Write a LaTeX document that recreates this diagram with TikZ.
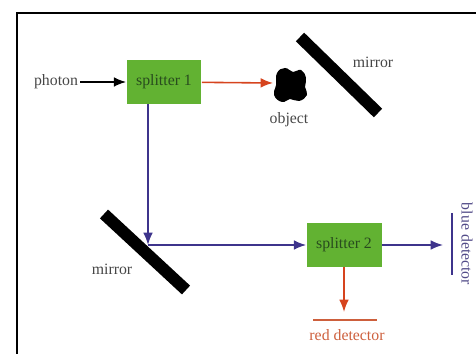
\documentclass[tikz,border=0pt]{standalone}
\usepackage{fontspec}
\setmainfont{Liberation Serif}
\usetikzlibrary{arrows.meta}
\definecolor{splitgreen}{RGB}{98,178,50}
\definecolor{splittext}{RGB}{40,75,30}
\definecolor{beamblue}{RGB}{62,52,140}
\definecolor{beamred}{RGB}{214,68,30}
\definecolor{detred}{RGB}{205,95,60}
\definecolor{labelgray}{RGB}{70,70,70}
\begin{document}
\begin{tikzpicture}[x=0.02cm,y=-0.02cm,font=\fontsize{9}{10}\selectfont,text=labelgray,
		splitter/.style={fill=splitgreen,text=splittext,minimum width=1.5cm,minimum height=0.88cm,inner sep=0pt},
		ray/.style={line width=0.9pt,-{Latex[length=7pt,width=5.5pt]}},
		mirrorbar/.style={line width=6.8pt}]
		\useasboundingbox (0,0) rectangle (476,354);
		%frame
		\draw[line width=1.5pt] (17,354)--(17,13)--(476,13);
		%splitters
		\node[splitter] (s1) at (164,82) {splitter 1};
		\node[splitter] (s2) at (344,245) {splitter 2};
		\node[inner sep=1pt] (photon) at (56,82) {photon};
		%mirrors
		\draw[mirrorbar] (300,37)--(378,113);
		\draw[mirrorbar] (104,214)--(186,290);
		\coordinate (m2) at (148,245);
		%object
		\fill plot[smooth cycle,tension=0.8] coordinates {(277,73) (285,68) (293,72) (301,70) (306,78) (305,87) (307,95) (299,101) (290,99) (282,102) (274,95) (276,85)};
		\coordinate (obj) at (273,83);
		%detectors
		\coordinate (bluedet) at (443,245);
		\coordinate (reddet) at (344,312);
		\draw[beamblue,line width=1pt] (452,213)--(452,275);
		\draw[detred,line width=1pt] (313,320)--(377,320);
		%beams
		\draw[ray] (photon)--(s1);
		\draw[ray,beamred] (s1)--(obj);
		\draw[ray,beamblue] (s1.south -| m2)--(m2);
		\draw[ray,beamblue] (m2)--(s2);
		\draw[ray,beamblue] (s2)--(bluedet);
		\draw[ray,beamred] (s2)--(reddet);
		%labels
		\foreach \Point/\Nom/\Nm in {(373,62)/mirror/lbm1,(112,269)/mirror/lbm2,(289,120)/object/lbobj}%
		\node (\Nm) at \Point {\Nom};
		\node[text=detred] (lbred) at (347,335) {red detector};
		\node[text=beamblue!70!gray,rotate=-90] (lbblue) at (467,244) {blue detector};
	\end{tikzpicture}
\end{document}
